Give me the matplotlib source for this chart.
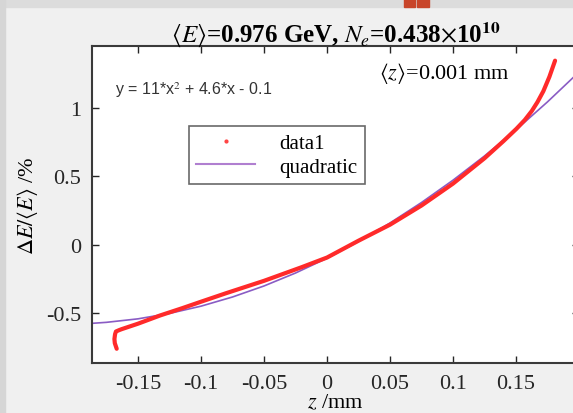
import numpy as np
import matplotlib
matplotlib.use('Agg')
import matplotlib.pyplot as plt
from matplotlib.patches import Rectangle
from matplotlib.lines import Line2D

plt.rcParams['font.family'] = ['Liberation Serif', 'DejaVu Serif']
plt.rcParams['mathtext.fontset'] = 'stix'
plt.rcParams['axes.unicode_minus'] = False

# data1 : energy deviation along the bunch
z_data = [-0.1669, -0.1684, -0.1687, -0.1682, -0.1675, -0.165, -0.163, -0.150,
          -0.1325, -0.115, -0.1008, -0.08, -0.05, -0.02, 0.0, 0.025, 0.05,
          0.075, 0.1, 0.125, 0.14, 0.1503, 0.157, 0.1625, 0.167, 0.1717,
          0.1765, 0.181]
dE_data = [-0.761, -0.72, -0.69, -0.655, -0.635, -0.625, -0.618, -0.578,
           -0.518, -0.465, -0.420, -0.355, -0.265, -0.165, -0.095, 0.028, 0.145,
           0.285, 0.445, 0.63, 0.755, 0.845, 0.91, 0.975, 1.04, 1.12,
           1.225, 1.343]

# quadratic fit curve
z_fit = [-0.1875, -0.175, -0.15, -0.125, -0.1, -0.075, -0.05, -0.025, 0.0,
         0.025, 0.05, 0.075, 0.1, 0.125, 0.15, 0.175, 0.2]
dE_fit = [-0.576, -0.568, -0.5425, -0.503, -0.45, -0.383, -0.3025, -0.208, -0.1,
          0.022, 0.1575, 0.307, 0.47, 0.647, 0.8375, 1.042, 1.26]

x_ticks = [-0.15, -0.1, -0.05, 0, 0.05, 0.1, 0.15]
x_labels = ['-0.15', '-0.1', '-0.05', '0', '0.05', '0.1', '0.15']
y_ticks = [-0.5, 0, 0.5, 1]
y_labels = ['-0.5', '0', '0.5', '1']

fig = plt.figure(figsize=(5.73, 4.14), dpi=100, facecolor='#f0f0f0')
# window chrome around the cropped screenshot
fig.patches.append(Rectangle((0, 0.98), 1, 0.02, transform=fig.transFigure,
                             color='#dcdcdc', zorder=0))
fig.patches.append(Rectangle((0, 0), 0.008, 1, transform=fig.transFigure,
                             color='#d6d6d6', zorder=0))
fig.patches.append(Rectangle((0.705, 0.98), 0.02, 0.02, transform=fig.transFigure,
                             color='#c8452a', zorder=1))
fig.patches.append(Rectangle((0.728, 0.98), 0.02, 0.02, transform=fig.transFigure,
                             color='#c8452a', zorder=1))

ax = fig.add_axes([92/573, 50/414, 487/573, 317/414])
ax.plot(z_fit, dE_fit, color='#8a5cc4', lw=1.2, zorder=2)
ax.plot(z_data, dE_data, color='#ff2a2a', lw=3.0, solid_capstyle='round',
        solid_joinstyle='round', zorder=3)

ax.set_xlim(-0.1865, 0.2)
ax.set_ylim(-0.865, 1.45)
ax.set_xticks(x_ticks)
ax.set_xticklabels(x_labels)
ax.set_yticks(y_ticks)
ax.set_yticklabels(y_labels)
ax.tick_params(direction='in', length=5, width=1, top=True, right=True,
               labelsize=16, colors='#262626', pad=8)
for s in ax.spines.values():
    s.set_linewidth(1.5)
    s.set_color('#3a3a3a')

ax.set_title(r'$\langle E\rangle$=0.976 GeV, $N_e$=0.438$\times$10$^{\mathbf{10}}$',
             fontsize=18, fontweight='bold', pad=3)
ax.set_xlabel(r'$z$ /mm', fontsize=16, labelpad=0)
ax.set_ylabel(r'$\Delta E/\langle E\rangle$ /%', fontsize=16, labelpad=4)

ax.text(0.048, 0.864, r'y = 11*x$^2$ + 4.6*x - 0.1', transform=ax.transAxes,
        fontsize=11.5, family='Liberation Sans', color='#333333', va='center')
ax.text(0.59, 0.90, r'$\langle z\rangle$=0.001 mm', transform=ax.transAxes,
        fontsize=16)

handles = [Line2D([], [], ls='none', marker='.', ms=4, color='#ff4444'),
           Line2D([], [], color='#b07fd0', lw=1.5)]
leg = ax.legend(handles, ['data1', 'quadratic'], loc='upper left',
                bbox_to_anchor=(0.178, 0.78), fontsize=15, frameon=True,
                fancybox=False, borderpad=0.35, handlelength=2.8,
                handletextpad=1.2, labelspacing=0.2)
leg.get_frame().set_edgecolor('#444444')
leg.get_frame().set_linewidth(1.2)

fig.savefig('out.png', dpi=100, facecolor=fig.get_facecolor())
